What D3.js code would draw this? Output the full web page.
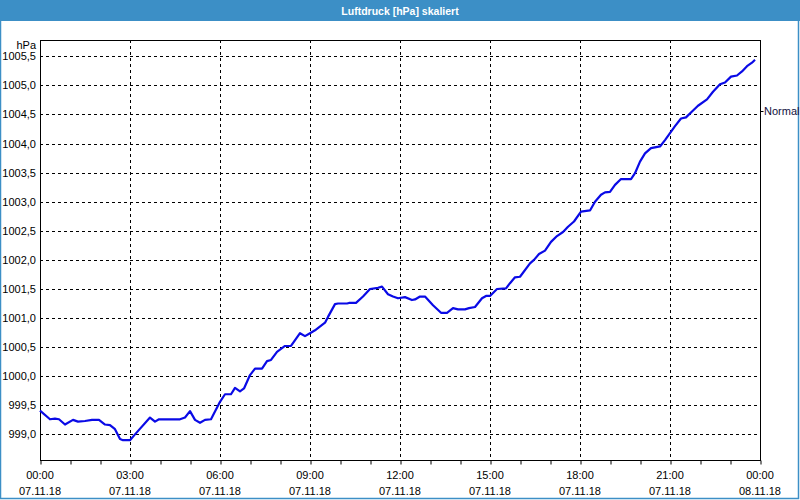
<!DOCTYPE html>
<html>
<head>
<meta charset="utf-8">
<script src="https://cdn.jsdelivr.net/npm/d3@7"></script>
<style>
  body { margin: 0; background: #ffffff; }
  svg { display: block; font-family: "Liberation Sans", Arial, sans-serif; }
</style>
</head>
<body>
<svg id="chart" width="800" height="500"></svg>
<script>
// minutes since 07.11.18 00:00
const minutes = [0, 20, 30, 38, 50, 66, 76, 90, 104, 118, 130, 140, 150, 160, 166, 180, 190,
  220, 230, 238, 280, 290, 300, 310, 320, 330, 342, 360, 370, 382, 390, 400, 408, 420, 430,
  444, 454, 462, 474, 490, 502, 520, 530, 540, 550, 570, 576, 590, 596, 614, 618, 632, 646,
  660, 676, 684, 696, 706, 716, 730, 744, 750, 760, 770, 786, 802, 814, 826, 836, 850, 858,
  870, 884, 892, 900, 914, 932, 940, 950, 960, 980, 988, 998, 1010, 1022, 1034, 1046, 1056,
  1068, 1082, 1100, 1110, 1122, 1130, 1140, 1150, 1162, 1182, 1190, 1200, 1210, 1222, 1240,
  1250, 1260, 1270, 1282, 1292, 1304, 1316, 1334, 1346, 1360, 1370, 1382, 1394, 1404, 1414,
  1424, 1430];
const pressure = [999.41, 999.26, 999.27, 999.26, 999.17, 999.25, 999.22, 999.23, 999.25, 999.25,
  999.17, 999.16, 999.09, 998.92, 998.90, 998.90, 999.00, 999.29, 999.22, 999.26, 999.26, 999.29,
  999.40, 999.25, 999.20, 999.25, 999.26, 999.56, 999.69, 999.69, 999.80, 999.74, 999.79, 1000.02,
  1000.13, 1000.13, 1000.26, 1000.28, 1000.42, 1000.52, 1000.52, 1000.74, 1000.69, 1000.74,
  1000.79, 1000.92, 1001.02, 1001.24, 1001.25, 1001.25, 1001.26, 1001.26, 1001.37, 1001.50,
  1001.52, 1001.54, 1001.41, 1001.37, 1001.34, 1001.36, 1001.31, 1001.32, 1001.37, 1001.37,
  1001.22, 1001.09, 1001.09, 1001.17, 1001.15, 1001.15, 1001.17, 1001.19, 1001.34, 1001.38,
  1001.38, 1001.50, 1001.51, 1001.60, 1001.70, 1001.71, 1001.94, 1002.00, 1002.10, 1002.16,
  1002.31, 1002.41, 1002.48, 1002.57, 1002.66, 1002.83, 1002.85, 1003.00, 1003.12, 1003.16,
  1003.17, 1003.29, 1003.39, 1003.39, 1003.49, 1003.69, 1003.83, 1003.92, 1003.95, 1004.06,
  1004.18, 1004.30, 1004.43, 1004.45, 1004.55, 1004.65, 1004.76, 1004.89, 1005.02, 1005.05,
  1005.15, 1005.17, 1005.24, 1005.33, 1005.39, 1005.44];

// tick labels
const xTickMinutes = [0, 180, 360, 540, 720, 900, 1080, 1260, 1440];
const xTickTimes = ["00:00", "03:00", "06:00", "09:00", "12:00", "15:00", "18:00", "21:00", "00:00"];
const xTickDates = ["07.11.18", "07.11.18", "07.11.18", "07.11.18", "07.11.18", "07.11.18", "07.11.18", "07.11.18", "08.11.18"];
const yTickValues = [999.0, 999.5, 1000.0, 1000.5, 1001.0, 1001.5, 1002.0, 1002.5, 1003.0, 1003.5, 1004.0, 1004.5, 1005.0, 1005.5];

const chartTitle = "Luftdruck [hPa] skaliert";
const unitLabel = "hPa";
const seriesName = "Normal";
const seriesLevel = 1004.56;

// layout
const margin = { top: 40, right: 40, bottom: 40, left: 40 };
const width = 800 - margin.left - margin.right;
const height = 500 - margin.top - margin.bottom;

const svg = d3.select("#chart");

// title bar
svg.append("rect")
   .attr("x", 0).attr("y", 0)
   .attr("width", 800).attr("height", 21)
   .attr("fill", "#3c8fc6");
svg.append("text")
   .attr("x", 400).attr("y", 14.5)
   .attr("text-anchor", "middle")
   .attr("fill", "#ffffff")
   .style("font-weight", "bold")
   .style("font-size", "10.5px")
   .text(chartTitle);

// window frame
svg.append("path")
   .attr("d", "M0.5,21 V498.5 H798.5 V21")
   .attr("fill", "none")
   .attr("stroke", "#3c8fc6")
   .attr("stroke-width", 1.5);

const g = svg.append("g")
             .attr("transform", `translate(${margin.left},${margin.top})`);

// scales
const xScale = d3.scaleLinear().domain([0, 1440]).range([0, width]);
const yScale = d3.scaleLinear().domain([998.56, 1005.78]).range([height, 0]);

const de = d3.formatLocale({ decimal: ",", thousands: ".", grouping: [3], currency: ["", "€"] });
const fmt = de.format(".1f");

// grid
g.selectAll(".hgrid")
 .data(yTickValues)
 .join("line")
   .attr("class", "hgrid")
   .attr("x1", 0).attr("x2", width)
   .attr("y1", d => Math.round(yScale(d)) + 0.5)
   .attr("y2", d => Math.round(yScale(d)) + 0.5)
   .attr("stroke", "#000")
   .attr("stroke-dasharray", "3,3");

g.selectAll(".vgrid")
 .data(xTickMinutes.slice(1, -1))
 .join("line")
   .attr("class", "vgrid")
   .attr("y1", 0).attr("y2", height)
   .attr("x1", d => Math.round(xScale(d)) + 0.5)
   .attr("x2", d => Math.round(xScale(d)) + 0.5)
   .attr("stroke", "#000")
   .attr("stroke-dasharray", "3,3");

// x axis: hourly minor ticks
const hours = d3.range(0, 1441, 60);
const xAxis = d3.axisBottom(xScale)
                .tickValues(hours)
                .tickSize(4)
                .tickFormat("");
g.append("g")
   .attr("transform", `translate(0.5,${height + 0.5})`)
   .call(xAxis)
   .call(a => a.select(".domain").remove());

g.selectAll(".xtime")
 .data(xTickMinutes)
 .join("text")
   .attr("class", "xtime")
   .attr("x", d => xScale(d))
   .attr("y", height + 19)
   .attr("text-anchor", "middle")
   .style("font-size", "11px")
   .attr("fill", "#000")
   .text((d, i) => xTickTimes[i]);

g.selectAll(".xdate")
 .data(xTickMinutes)
 .join("text")
   .attr("class", "xdate")
   .attr("x", d => xScale(d))
   .attr("y", height + 35)
   .attr("text-anchor", "middle")
   .style("font-size", "11px")
   .attr("fill", "#000")
   .text((d, i) => xTickDates[i]);

// y axis labels
const yAxis = d3.axisLeft(yScale)
                .tickValues(yTickValues)
                .tickSize(0)
                .tickPadding(4)
                .tickFormat(fmt);
g.append("g")
   .call(yAxis)
   .call(a => a.select(".domain").remove())
   .call(a => a.selectAll("text")
               .style("font-size", "11px")
               .style("font-family", "'Liberation Sans', Arial, sans-serif")
               .attr("fill", "#000"));

g.append("text")
   .attr("x", -4)
   .attr("y", 9)
   .attr("text-anchor", "end")
   .style("font-size", "11px")
   .text(unitLabel);

// plot frame
g.append("rect")
   .attr("x", 0.5).attr("y", 0.5)
   .attr("width", width).attr("height", height)
   .attr("fill", "none")
   .attr("stroke", "#000");

// series line
const line = d3.line()
               .x((d, i) => xScale(minutes[i]))
               .y(d => yScale(d));
g.append("path")
   .datum(pressure)
   .attr("d", line)
   .attr("fill", "none")
   .attr("stroke", "#0a0ae6")
   .attr("stroke-width", 2.2)
   .attr("stroke-linejoin", "round");

// series label on the right
g.append("line")
   .attr("x1", width + 0.5).attr("x2", width + 3.5)
   .attr("y1", Math.round(yScale(seriesLevel)) + 0.5)
   .attr("y2", Math.round(yScale(seriesLevel)) + 0.5)
   .attr("stroke", "#000");
g.append("text")
   .attr("x", width + 4)
   .attr("y", yScale(seriesLevel))
   .attr("dy", "0.35em")
   .style("font-size", "11px")
   .attr("fill", "#101040")
   .text(seriesName);
</script>
</body>
</html>
